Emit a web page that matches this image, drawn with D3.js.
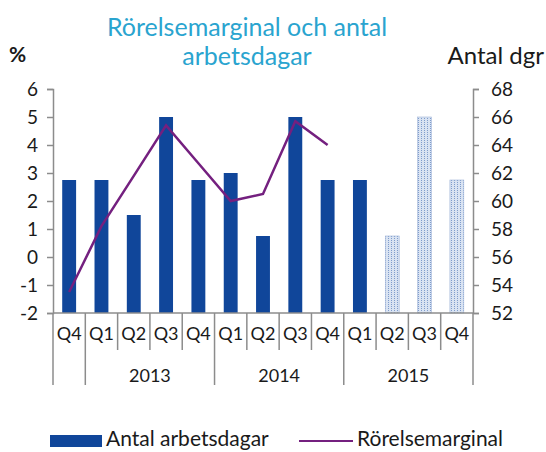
<!DOCTYPE html>
<html>
<head>
<meta charset="utf-8">
<script src="https://cdn.jsdelivr.net/npm/d3@7"></script>
<style>
	body { margin: 0; background: #fff; }
	text { font-family: Lato, "Noto Sans", sans-serif; }
</style>
</head>
<body>
<div id="chart"></div>
<script>
// quarters along the x axis
const quarters = ["Q4", "Q1", "Q2", "Q3", "Q4", "Q1", "Q2", "Q3", "Q4", "Q1", "Q2", "Q3", "Q4"]
// year groups: label, first index, last index (exclusive)
const years = [
	{label: "", from: 0, to: 1},
	{label: "2013", from: 1, to: 5},
	{label: "2014", from: 5, to: 9},
	{label: "2015", from: 9, to: 13}
]
// working days (right axis); last three are forecasts
const workDays = [61.5, 61.5, 59, 66, 61.5, 62, 57.5, 66, 61.5, 61.5, 57.5, 66, 61.5]
const isForecast = [false, false, false, false, false, false, false, false, false, false, true, true, true]
// operating margin % (left axis), only through Q4 2014
const margin = [-1.25, 1.1, 2.9, 4.7, 3.35, 2.0, 2.25, 4.85, 4.0]
const leftTicks = [-2, -1, 0, 1, 2, 3, 4, 5, 6]
const rightTicks = [52, 54, 56, 58, 60, 62, 64, 66, 68]

const params = {
	width: 546, height: 452,
	left: 53, right: 473, top: 89, bottom: 313,
	barColor: "#10469a", lineColor: "#74207f", axisColor: "#8c8c8c",
	titleColor: "#2aa4cf"
}

const svg = d3.select("#chart")
	.append("svg")
	.attr("width", params.width)
	.attr("height", params.height)

// dotted pattern for the forecast bars
const defs = svg.append("defs")
const pat = defs.append("pattern")
	.attr("id", "dots")
	.attr("width", 3).attr("height", 2)
	.attr("patternUnits", "userSpaceOnUse")
pat.append("rect").attr("width", 3).attr("height", 2).attr("fill", "#d9e3f2")
pat.append("rect").attr("x", 1).attr("width", 1).attr("height", 1).attr("fill", "#7f9ccc")

const xScale = d3.scaleBand()
	.domain(d3.range(quarters.length))
	.range([params.left, params.right])
	.paddingInner(0.57)
	.paddingOuter(0.285)

const yLeft = d3.scaleLinear().domain([-2, 6]).range([params.bottom, params.top])
const yRight = d3.scaleLinear().domain([52, 68]).range([params.bottom, params.top])

// bars
svg.append("g")
	.selectAll("rect")
	.data(workDays)
	.join("rect")
	.attr("x", (d, i) => xScale(i))
	.attr("width", xScale.bandwidth())
	.attr("y", d => yRight(d))
	.attr("height", d => yRight(52) - yRight(d))
	.attr("fill", (d, i) => isForecast[i] ? "url(#dots)" : params.barColor)
	.attr("stroke", (d, i) => isForecast[i] ? "#9fb4d8" : "none")
	.attr("stroke-width", 0.6)

// axes
const styleAxis = g => {
	g.select(".domain").attr("stroke", params.axisColor).attr("stroke-width", 1.5)
	g.selectAll(".tick line").attr("stroke", params.axisColor).attr("stroke-width", 1.5)
	g.selectAll(".tick text")
		.attr("font-size", 19)
		.attr("fill", "#1a1a1a")
		.style("font-family", "Lato, sans-serif")
}

svg.append("g")
	.attr("transform", `translate(${params.left}, 0)`)
	.call(d3.axisLeft(yLeft).tickValues(leftTicks).tickFormat(d => String(d)).tickSize(6).tickPadding(9))
	.call(styleAxis)

svg.append("g")
	.attr("transform", `translate(${params.right}, 0)`)
	.call(d3.axisRight(yRight).tickValues(rightTicks).tickFormat(d => String(d)).tickSize(6).tickPadding(12))
	.call(styleAxis)

// category axis
const xAxis = svg.append("g")
xAxis.append("line")
	.attr("x1", params.left).attr("x2", params.right)
	.attr("y1", params.bottom).attr("y2", params.bottom)
	.attr("stroke", params.axisColor).attr("stroke-width", 1.5)

const step = xScale.step()
const edge = i => params.left + i * step
const yearEdges = years.map(d => d.from).concat([quarters.length])

xAxis.selectAll(".sep")
	.data(d3.range(quarters.length + 1))
	.join("line")
	.attr("x1", i => edge(i)).attr("x2", i => edge(i))
	.attr("y1", params.bottom)
	.attr("y2", i => yearEdges.includes(i) ? 385 : 350)
	.attr("stroke", params.axisColor).attr("stroke-width", 1.5)

xAxis.selectAll(".q")
	.data(quarters)
	.join("text")
	.attr("x", (d, i) => edge(i) + step / 2)
	.attr("y", 340)
	.attr("text-anchor", "middle")
	.attr("font-size", 18)
	.attr("fill", "#1a1a1a")
	.text(d => d)

xAxis.selectAll(".yr")
	.data(years)
	.join("text")
	.attr("x", d => (edge(d.from) + edge(d.to)) / 2)
	.attr("y", 382)
	.attr("text-anchor", "middle")
	.attr("font-size", 18)
	.attr("fill", "#1a1a1a")
	.text(d => d.label)

// margin line
const lineGen = d3.line()
	.x((d, i) => xScale(i) + xScale.bandwidth() / 2)
	.y(d => yLeft(d))

svg.append("path")
	.attr("d", lineGen(margin))
	.attr("fill", "none")
	.attr("stroke", params.lineColor)
	.attr("stroke-width", 2.5)

// titles
svg.append("text")
	.attr("x", 247).attr("y", 36)
	.attr("text-anchor", "middle")
	.attr("font-size", 25)
	.attr("fill", params.titleColor)
	.text("Rörelsemarginal och antal")
svg.append("text")
	.attr("x", 247).attr("y", 65)
	.attr("text-anchor", "middle")
	.attr("font-size", 25)
	.attr("fill", params.titleColor)
	.text("arbetsdagar")

svg.append("text")
	.attr("x", 9).attr("y", 62)
	.attr("font-size", 21)
	.attr("font-weight", "bold")
	.attr("fill", "#1a1a1a")
	.text("%")

svg.append("text")
	.attr("x", 544).attr("y", 64)
	.attr("text-anchor", "end")
	.attr("font-size", 24)
	.attr("fill", "#1a1a1a")
	.text("Antal dgr")

// legend
const legend = svg.append("g")
legend.append("rect")
	.attr("x", 50).attr("y", 435)
	.attr("width", 52).attr("height", 12)
	.attr("fill", params.barColor)
legend.append("text")
	.attr("x", 106).attr("y", 446)
	.attr("font-size", 21)
	.attr("fill", "#1a1a1a")
	.text("Antal arbetsdagar")
legend.append("line")
	.attr("x1", 299).attr("x2", 353)
	.attr("y1", 441).attr("y2", 441)
	.attr("stroke", params.lineColor)
	.attr("stroke-width", 2)
legend.append("text")
	.attr("x", 357).attr("y", 446)
	.attr("font-size", 21)
	.attr("fill", "#1a1a1a")
	.text("Rörelsemarginal")
</script>
</body>
</html>
